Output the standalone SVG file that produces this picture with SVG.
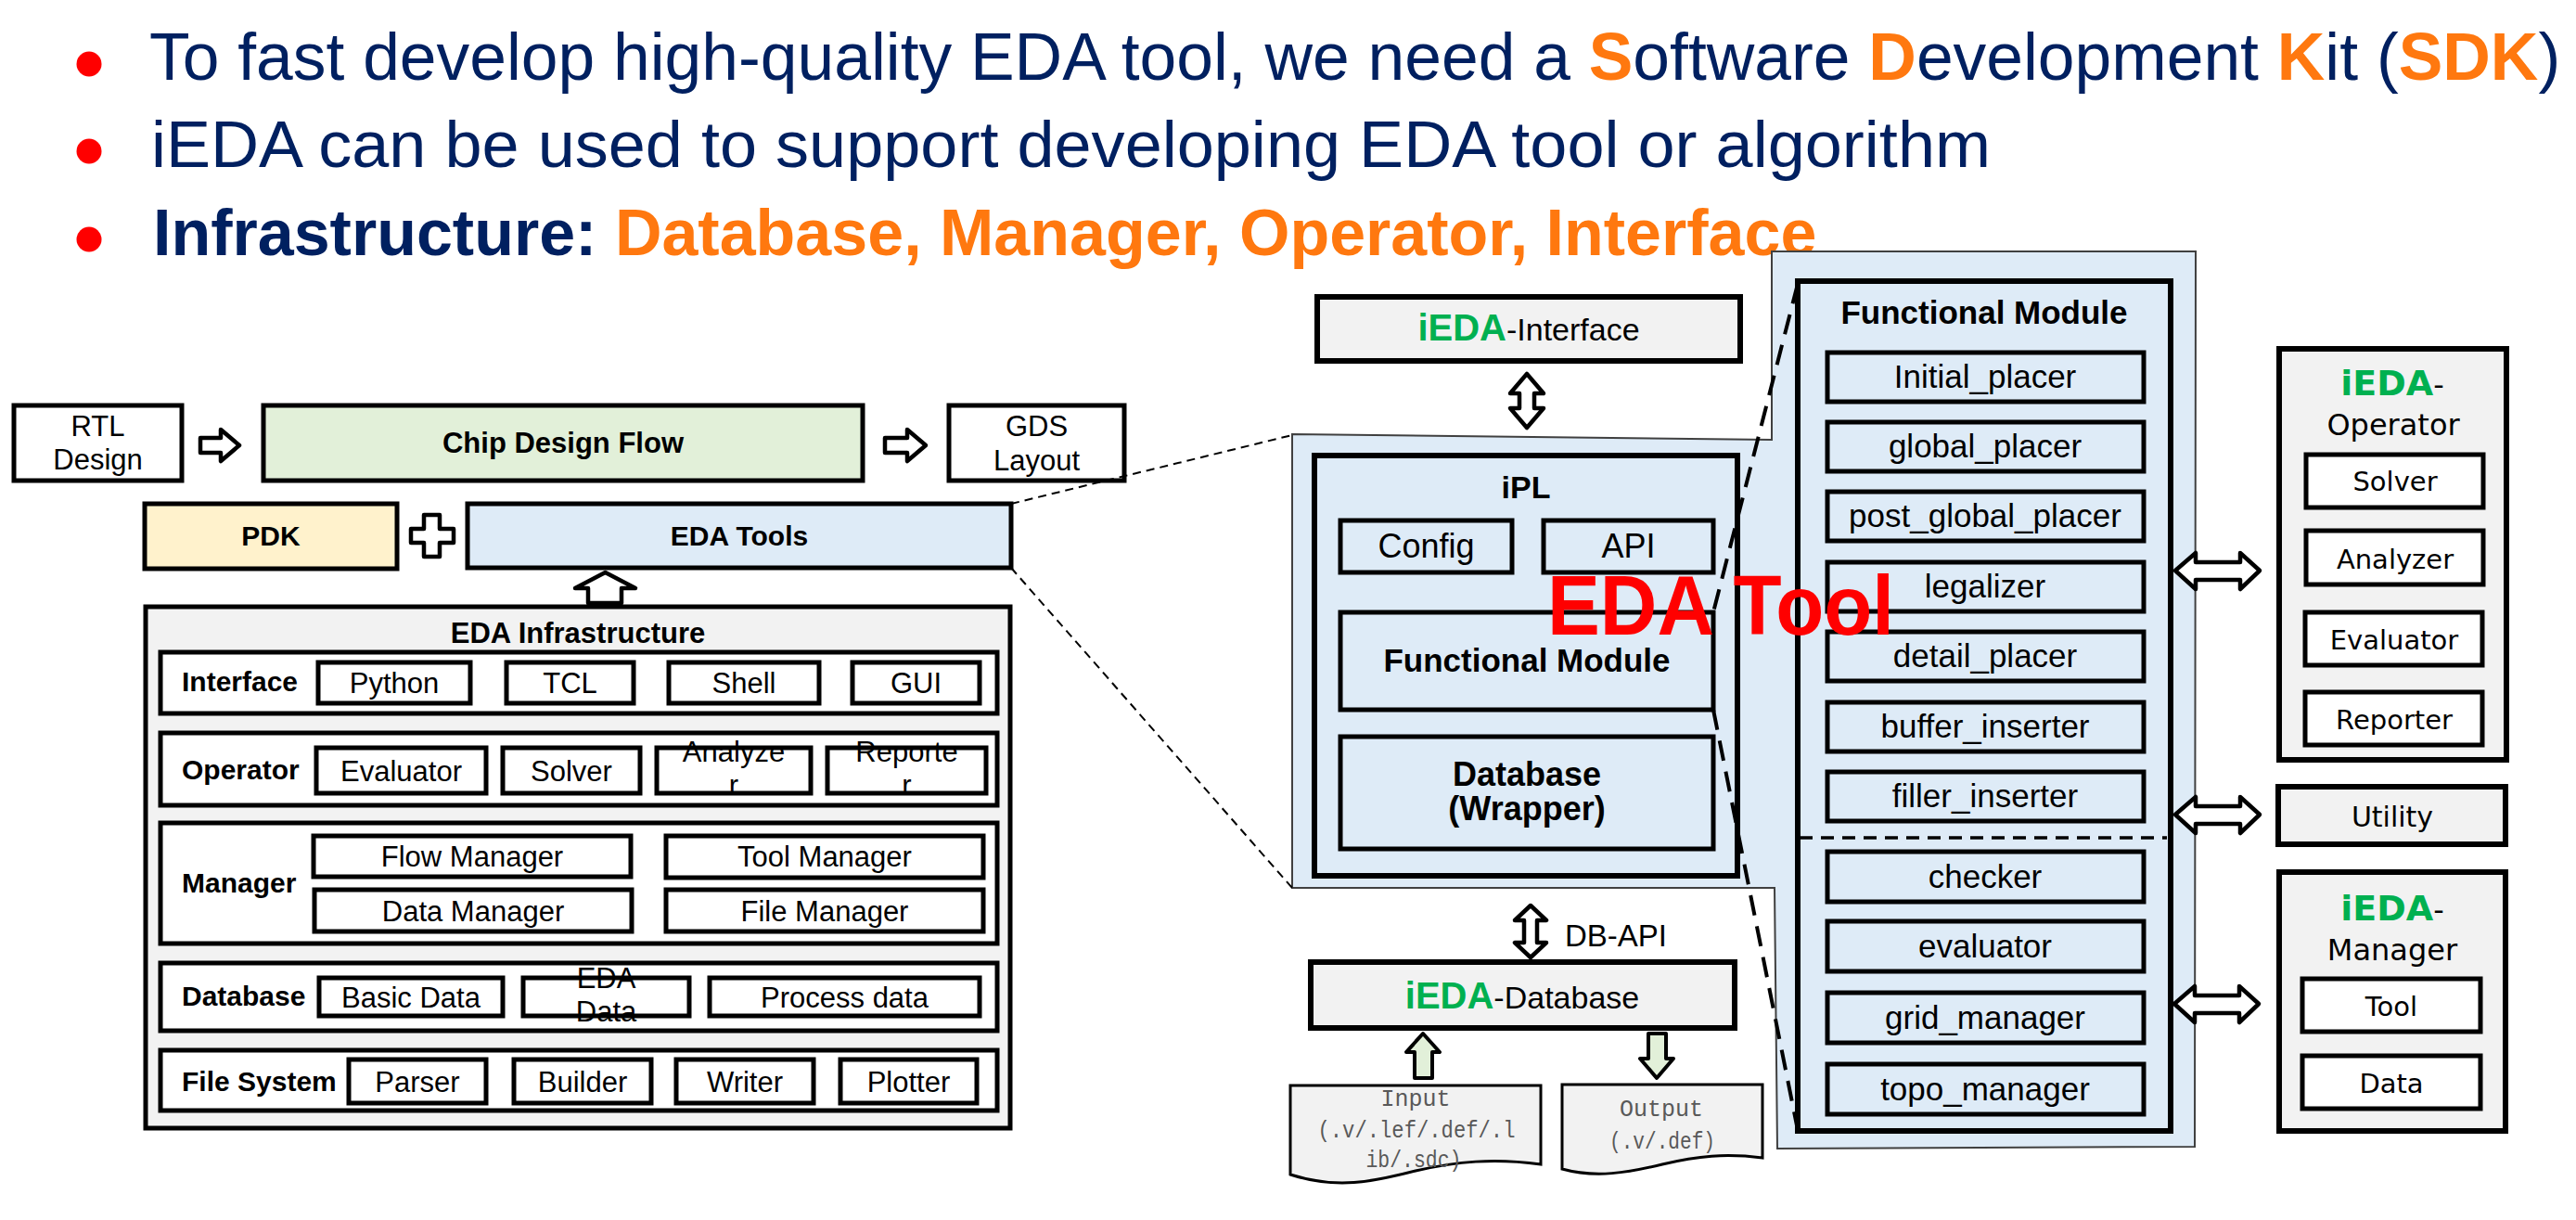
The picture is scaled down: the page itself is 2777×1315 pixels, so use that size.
<svg xmlns="http://www.w3.org/2000/svg" width="2777" height="1315" viewBox="0 0 2777 1315">
<style>
.t{font-family:"Liberation Sans",Arial,sans-serif;fill:#000}
.c{text-anchor:middle}
.b{font-weight:bold}
.v{font-family:"DejaVu Sans",Verdana,sans-serif;fill:#000}
.m{font-family:"Liberation Mono","Courier New",monospace;fill:#595959;text-anchor:middle}
.g{fill:#00B050;font-weight:bold}
.navy{fill:#002060}
.or{fill:#FF780F;font-weight:bold}
.bx{stroke:#000;stroke-width:5}
.bx6{stroke:#000;stroke-width:6}
.w{fill:#fff}
.gr{fill:#F2F2F2}
.bl{fill:#DEEBF7}
.arr{fill:#fff;stroke:#000;stroke-width:4.5;stroke-linejoin:round}
.garr{fill:#E2F0D9;stroke:#000;stroke-width:4;stroke-linejoin:round}
.thin{fill:none;stroke:#000;stroke-width:2;stroke-dasharray:9 6}
.thick{fill:none;stroke:#000;stroke-width:4;stroke-dasharray:22 12}
.doc{fill:#F2F2F2;stroke:#000;stroke-width:3}
</style>

<g id="title">
<circle cx="96" cy="69" r="13.5" fill="#FF0000"/>
<circle cx="96" cy="163" r="13.5" fill="#FF0000"/>
<circle cx="96" cy="258" r="13.5" fill="#FF0000"/>
<text class="t navy" x="161" y="86" font-size="71.4">To fast develop high-quality EDA tool, we need a <tspan class="or">S</tspan>oftware <tspan class="or">D</tspan>evelopment <tspan class="or">K</tspan>it (<tspan class="or">SDK</tspan>)</text>
<text class="t navy" x="163" y="180" font-size="71" textLength="1983" lengthAdjust="spacingAndGlyphs">iEDA can be used to support developing EDA tool or algorithm</text>
<text class="t navy b" x="165" y="275" font-size="70">Infrastructure: <tspan class="or">Database, Manager, Operator, Interface</tspan></text>
</g>

<g id="eda-tool-region">
<polygon points="1393,468 1910,474 1910,271 2367,271 2366,1236 1916,1238 1913,957 1393,957" fill="#DEEBF7" stroke="#404040" stroke-width="2"/>
</g>

<g id="rtl-design">
<rect class="bx w" x="15" y="437" width="181" height="81"/>
<text class="t c" x="105.5" y="470" font-size="31">RTL</text>
<text class="t c" x="105.5" y="506" font-size="31">Design</text>
</g>
<g id="chip-design-flow">
<rect class="bx" fill="#E2F0D9" x="284" y="437" width="646" height="81"/>
<text class="t c b" x="607" y="488" font-size="31">Chip Design Flow</text>
</g>
<g id="gds-layout">
<rect class="bx w" x="1023" y="437" width="189" height="81"/>
<text class="t c" x="1117.5" y="470" font-size="31">GDS</text>
<text class="t c" x="1117.5" y="507" font-size="31">Layout</text>
</g>
<g id="pdk">
<rect class="bx" fill="#FFF2CC" x="156" y="543" width="272" height="70"/>
<text class="t c b" x="292" y="588" font-size="30">PDK</text>
</g>
<g id="plus">
<polygon class="arr" points="457,555 474,555 474,570 489,570 489,585 474,585 474,600 457,600 457,585 443,585 443,570 457,570"/>
</g>
<g id="eda-tools">
<rect class="bx bl" x="504" y="543" width="586" height="69"/>
<text class="t c b" x="797" y="588" font-size="30">EDA Tools</text>
</g>

<g id="eda-infrastructure">
<rect class="bx gr" x="157" y="654" width="932" height="562"/>
<text class="t c b" x="623" y="693" font-size="31">EDA Infrastructure</text>
<g id="row-interface">
<rect class="bx w" x="173" y="703" width="902" height="66"/>
<text class="t b" x="196" y="745" font-size="30">Interface</text>
<rect class="bx w" x="343" y="714" width="164" height="44"/><text class="t c" x="425" y="747" font-size="31">Python</text>
<rect class="bx w" x="546" y="714" width="137" height="44"/><text class="t c" x="614.5" y="747" font-size="31">TCL</text>
<rect class="bx w" x="721" y="714" width="162" height="44"/><text class="t c" x="802" y="747" font-size="31">Shell</text>
<rect class="bx w" x="919" y="714" width="137" height="44"/><text class="t c" x="987.5" y="747" font-size="31">GUI</text>
</g>
<g id="row-operator">
<rect class="bx w" x="173" y="790" width="902" height="78"/>
<text class="t b" x="196" y="840" font-size="30">Operator</text>
<rect class="bx w" x="341" y="806" width="183" height="49"/><text class="t c" x="432.5" y="842" font-size="31">Evaluator</text>
<rect class="bx w" x="542" y="806" width="148" height="49"/><text class="t c" x="616" y="842" font-size="31">Solver</text>
<rect class="bx w" x="708" y="806" width="166" height="49"/><text class="t c" x="791" y="821" font-size="31">Analyze</text><text class="t c" x="791" y="857" font-size="31">r</text>
<rect class="bx w" x="892" y="806" width="171" height="49"/><text class="t c" x="977.5" y="821" font-size="31">Reporte</text><text class="t c" x="977.5" y="857" font-size="31">r</text>
</g>
<g id="row-manager">
<rect class="bx w" x="173" y="887" width="902" height="130"/>
<text class="t b" x="196" y="962" font-size="30">Manager</text>
<rect class="bx w" x="338" y="901" width="342" height="44"/><text class="t c" x="509" y="934" font-size="31">Flow Manager</text>
<rect class="bx w" x="718" y="901" width="342" height="45"/><text class="t c" x="889" y="934" font-size="31">Tool Manager</text>
<rect class="bx w" x="339" y="959" width="342" height="45"/><text class="t c" x="510" y="993" font-size="31">Data Manager</text>
<rect class="bx w" x="718" y="959" width="342" height="45"/><text class="t c" x="889" y="993" font-size="31">File Manager</text>
</g>
<g id="row-database">
<rect class="bx w" x="173" y="1038" width="902" height="73"/>
<text class="t b" x="196" y="1084" font-size="30">Database</text>
<rect class="bx w" x="344" y="1054" width="198" height="41"/><text class="t c" x="443" y="1086" font-size="31">Basic Data</text>
<rect class="bx w" x="564" y="1054" width="179" height="41"/><text class="t c" x="653.5" y="1065" font-size="31">EDA</text><text class="t c" x="653.5" y="1101" font-size="31">Data</text>
<rect class="bx w" x="765" y="1054" width="291" height="41"/><text class="t c" x="910.5" y="1086" font-size="31">Process data</text>
</g>
<g id="row-file-system">
<rect class="bx w" x="173" y="1132" width="902" height="65"/>
<text class="t b" x="196" y="1176" font-size="30">File System</text>
<rect class="bx w" x="376" y="1142" width="148" height="47"/><text class="t c" x="450" y="1177" font-size="31">Parser</text>
<rect class="bx w" x="554" y="1142" width="148" height="47"/><text class="t c" x="628" y="1177" font-size="31">Builder</text>
<rect class="bx w" x="729" y="1142" width="148" height="47"/><text class="t c" x="803" y="1177" font-size="31">Writer</text>
<rect class="bx w" x="906" y="1142" width="147" height="47"/><text class="t c" x="979.5" y="1177" font-size="31">Plotter</text>
</g>
</g>

<g id="iEDA-interface">
<rect class="bx6 gr" x="1420" y="320" width="456" height="69"/>
<text class="t c" x="1648" y="367" font-size="34"><tspan class="g" font-size="40">iEDA</tspan>-Interface</text>
</g>

<g id="iPL">
<rect class="bx6 bl" x="1417" y="491" width="456" height="453"/>
<text class="t c b" x="1645" y="537" font-size="34">iPL</text>
<rect class="bx bl" x="1445" y="561" width="185" height="56"/><text class="t c" x="1537.5" y="601" font-size="36">Config</text>
<rect class="bx bl" x="1664" y="561" width="183" height="56"/><text class="t c" x="1755.5" y="601" font-size="36">API</text>
<rect class="bx bl" x="1445" y="660" width="402" height="105"/><text class="t c b" x="1646" y="724" font-size="35">Functional Module</text>
<rect class="bx bl" x="1445" y="794" width="402" height="121"/><text class="t c b" x="1646" y="847" font-size="36">Database</text><text class="t c b" x="1646" y="884" font-size="36">(Wrapper)</text>
</g>

<g id="functional-module">
<rect class="bx6 bl" x="1938" y="303" width="402" height="916"/>
<text class="t c b" x="2139" y="349" font-size="35">Functional Module</text>
<rect class="bx bl" x="1970" y="380" width="341" height="53"/><text class="t c" x="2140" y="418" font-size="35">Initial_placer</text>
<rect class="bx bl" x="1970" y="455" width="341" height="53"/><text class="t c" x="2140" y="493" font-size="35">global_placer</text>
<rect class="bx bl" x="1970" y="530" width="341" height="53"/><text class="t c" x="2140" y="568" font-size="35">post_global_placer</text>
<rect class="bx bl" x="1970" y="606" width="341" height="53"/><text class="t c" x="2140" y="644" font-size="35">legalizer</text>
<rect class="bx bl" x="1970" y="681" width="341" height="53"/><text class="t c" x="2140" y="719" font-size="35">detail_placer</text>
<rect class="bx bl" x="1970" y="757" width="341" height="53"/><text class="t c" x="2140" y="795" font-size="35">buffer_inserter</text>
<rect class="bx bl" x="1970" y="832" width="341" height="53"/><text class="t c" x="2140" y="870" font-size="35">filler_inserter</text>
<line x1="1940" y1="903" x2="2336" y2="903" stroke="#000" stroke-width="3.5" stroke-dasharray="14 9"/>
<rect class="bx bl" x="1970" y="918" width="341" height="54"/><text class="t c" x="2140" y="957" font-size="35">checker</text>
<rect class="bx bl" x="1970" y="993" width="341" height="54"/><text class="t c" x="2140" y="1032" font-size="35">evaluator</text>
<rect class="bx bl" x="1970" y="1070" width="341" height="54"/><text class="t c" x="2140" y="1109" font-size="35">grid_manager</text>
<rect class="bx bl" x="1970" y="1147" width="341" height="54"/><text class="t c" x="2140" y="1186" font-size="35">topo_manager</text>
</g>

<g id="iEDA-database">
<rect class="bx6 gr" x="1413" y="1037" width="457" height="71"/>
<text class="t c" x="1641" y="1087" font-size="34"><tspan class="g" font-size="40">iEDA</tspan>-Database</text>
</g>
<g id="db-api-label">
<text class="t" x="1687" y="1020" font-size="33">DB-API</text>
</g>

<g id="input-file">
<path class="doc" d="M1391,1170 L1661,1170 L1661,1255 C1610,1248 1570,1252 1526,1262 C1480,1274 1440,1282 1391,1266 Z"/>
<text class="m" x="1526" y="1192" font-size="25">Input</text>
<text class="m" x="1527" y="1226" font-size="25" textLength="213" lengthAdjust="spacingAndGlyphs">(.v/.lef/.def/.l</text>
<text class="m" x="1524" y="1258" font-size="25" textLength="103" lengthAdjust="spacingAndGlyphs">ib/.sdc)</text>
</g>
<g id="output-file">
<path class="doc" d="M1684,1169 L1900,1169 L1900,1248 C1860,1243 1830,1246 1792,1255 C1755,1264 1720,1270 1684,1260 Z"/>
<text class="m" x="1791" y="1203" font-size="25">Output</text>
<text class="m" x="1792" y="1238" font-size="25" textLength="114" lengthAdjust="spacingAndGlyphs">(.v/.def)</text>
</g>

<g id="iEDA-operator">
<rect class="bx6 gr" x="2457" y="376" width="245" height="443"/>
<text class="v c" x="2579" y="426" font-size="32"><tspan class="g" font-size="38">iEDA</tspan>-</text>
<text class="v c" x="2580" y="469" font-size="32">Operator</text>
<rect class="bx w" x="2486" y="490" width="191" height="57"/><text class="v c" x="2582" y="529" font-size="29">Solver</text>
<rect class="bx w" x="2486" y="572" width="191" height="58"/><text class="v c" x="2582" y="613" font-size="29">Analyzer</text>
<rect class="bx w" x="2485" y="660" width="191" height="57"/><text class="v c" x="2581" y="700" font-size="29">Evaluator</text>
<rect class="bx w" x="2485" y="746" width="191" height="57"/><text class="v c" x="2581" y="786" font-size="29">Reporter</text>
</g>
<g id="utility">
<rect class="bx6 gr" x="2456" y="848" width="245" height="62"/>
<text class="v c" x="2579" y="891" font-size="30">Utility</text>
</g>
<g id="iEDA-manager">
<rect class="bx6 gr" x="2457" y="940" width="244" height="279"/>
<text class="v c" x="2579" y="992" font-size="32"><tspan class="g" font-size="38">iEDA</tspan>-</text>
<text class="v c" x="2579" y="1035" font-size="32">Manager</text>
<rect class="bx w" x="2482" y="1055" width="192" height="57"/><text class="v c" x="2578" y="1095" font-size="29">Tool</text>
<rect class="bx w" x="2482" y="1138" width="192" height="57"/><text class="v c" x="2578" y="1178" font-size="29">Data</text>
</g>

<g id="connectors">
<polygon class="arr" points="216,472 238,472 238,463 258,480 238,497 238,488 216,488"/>
<polygon class="arr" points="954,472 978,472 978,463 998,480 978,497 978,488 954,488"/>
<polygon class="arr" points="652.5,617 685,634 670,634 670,650 634,650 634,634 620,634"/>
<line class="thin" x1="1090" y1="543" x2="1393" y2="469"/>
<line class="thin" x1="1090" y1="612" x2="1393" y2="957"/>
<polygon class="arr" points="1646,403 1664,424 1654,424 1654,440 1664,440 1646,461 1628,440 1638,440 1638,424 1628,424"/>
<polygon class="arr" points="1650,976 1667,992 1657,992 1657,1016 1667,1016 1650,1032 1633,1016 1643,1016 1643,992 1633,992"/>
<polygon class="garr" points="1534,1114 1552,1134 1544,1134 1544,1162 1525,1162 1525,1134 1516,1134"/>
<polygon class="garr" points="1777,1114 1796,1114 1796,1141 1804,1141 1786,1162 1768,1141 1777,1141"/>
<line class="thick" x1="1938" y1="306" x2="1847" y2="660"/>
<line class="thick" x1="1847" y1="765" x2="1938" y2="1218"/>
<polygon class="arr" points="2345,615 2367,596 2367,606 2415,606 2415,596 2436,615 2415,635 2415,625 2367,625 2367,635"/>
<polygon class="arr" points="2345,878 2367,859 2367,869 2415,869 2415,859 2436,878 2415,898 2415,888 2367,888 2367,898"/>
<polygon class="arr" points="2344,1082 2366,1063 2366,1073 2414,1073 2414,1063 2435,1082 2414,1102 2414,1092 2366,1092 2366,1102"/>
</g>

<g id="eda-tool-label">
<text class="t b" x="1668" y="684" font-size="90" style="fill:#FF0000" textLength="374" lengthAdjust="spacingAndGlyphs">EDA Tool</text>
</g>
</svg>
